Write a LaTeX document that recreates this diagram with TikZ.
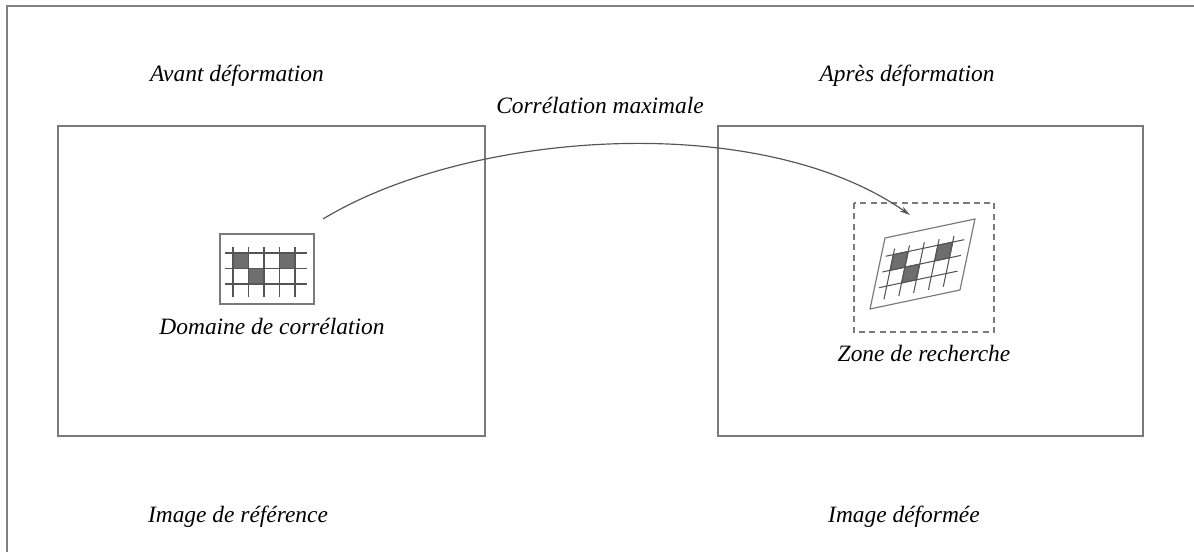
\documentclass[tikz,border=0pt]{standalone}
\usepackage{fontspec}
\setmainfont{Liberation Serif}
\usetikzlibrary{arrows.meta}

\definecolor{linegray}{HTML}{7A7A7A}
\definecolor{gridgray}{HTML}{555555}
\definecolor{cellgray}{HTML}{6E6E6E}

% correlation pattern, local units: box 94 x 70
\newcommand{\motif}{%
  \filldraw[cell] (13,19) rectangle (28.5,34.5);
  \filldraw[cell] (28.5,34.5) rectangle (44,50);
  \filldraw[cell] (59.5,19) rectangle (75,34.5);
  \foreach \v in {19,34.5,50} \draw[gridline] (5,\v) -- (87,\v);
  \foreach \u in {13,28.5,44,59.5,75} \draw[gridline] (\u,13) -- (\u,63);
  \draw[frame] (0,0) rectangle (94,70);
}

\begin{document}
\begin{tikzpicture}[
    x=0.427pt, y=-0.427pt,
    every node/.style={font=\fontsize{10}{12}\selectfont\itshape},
    label/.style={anchor=base, inner sep=0pt},
    frame/.style={draw=linegray, line width=0.5pt},
    outer/.style={draw=gray, line width=0.9pt},
    gridline/.style={draw=gridgray, line width=0.45pt},
    cell/.style={fill=cellgray, draw=gridgray, line width=0.45pt},
    zonebox/.style={frame, dash pattern=on 2.6pt off 1.8pt},
    arr/.style={-{Stealth[length=4.5pt, width=2.4pt]}, draw=gridgray, line width=0.5pt}
]
    \useasboundingbox (0,0) rectangle (1194,552);
    \draw[outer] (7,552) -- (7,6) -- (1194,6);

    % Images
    \draw[frame] (58,126) rectangle (485,436);
    \draw[frame] (718,126) rectangle (1143,436);

    % Titles
    \node[label] (avant) at (237,82) {Avant déformation};
    \node[label] (apres) at (907,82) {Après déformation};
    \node[label] (corr) at (600,114) {Corrélation maximale};
    \node[label] (imref) at (238,523) {Image de référence};
    \node[label] (imdef) at (904,523) {Image déformée};

    % Correlation domain
    \begin{scope}[shift={(220,234)}]
        \motif
    \end{scope}
    \node[label] (domaine) at (272,335) {Domaine de corrélation};

    % Search zone
    \draw[zonebox] (854,203) rectangle (994,332);
    \begin{scope}[cm={0.957,0.202,0.214,1.014,(885,238)}]
        \motif
    \end{scope}
    \node[label] (zone) at (924,362) {Zone de recherche};

    % Arc
    \coordinate (arcstart) at (323,219);
    \coordinate (arcend) at (910,215);
    \draw[arr] (arcstart) .. controls (470,130) and (760,110) .. (arcend);
\end{tikzpicture}
\end{document}
